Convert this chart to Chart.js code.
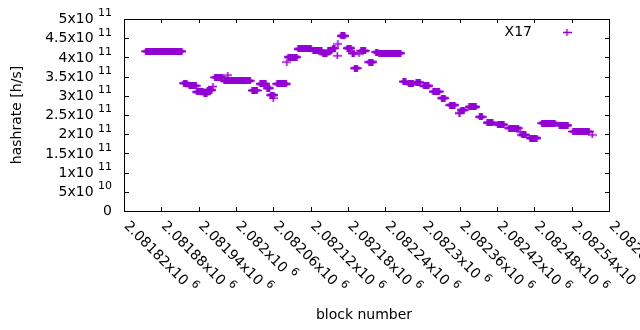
<!DOCTYPE html>
<html>
<head>
<meta charset="utf-8">
<script src="https://cdn.jsdelivr.net/npm/chart.js@4.4.1/dist/chart.umd.min.js"></script>
<style>
  html, body { margin: 0; padding: 0; background: #fff; }
  #wrap { width: 640px; height: 330px; position: relative; }
</style>
</head>
<body>
<div id="wrap"><canvas id="hashChart"></canvas></div>
<script>
// hashrate plateaus: first block, last block, hashrate [h/s]
const runFrom = [2081855, 2081916, 2081925, 2081937, 2081949, 2081954, 2081963, 2081966, 2081981, 2081987,
  2082026, 2082039, 2082050, 2082056, 2082060, 2082066, 2082082, 2082084, 2082100, 2082124,
  2082140, 2082148, 2082156, 2082163, 2082164, 2082169, 2082179, 2082187, 2082191, 2082198,
  2082201, 2082214, 2082225, 2082230, 2082269, 2082278, 2082290, 2082302, 2082317, 2082331,
  2082344, 2082359, 2082362, 2082375, 2082392, 2082404, 2082421, 2082439, 2082457, 2082460,
  2082473, 2082492, 2082520, 2082542, 2082573];
const runTo = [2081913, 2081921, 2081936, 2081947, 2081953, 2081961, 2081963, 2081978, 2082023, 2081987,
  2082034, 2082048, 2082054, 2082061, 2082060, 2082081, 2082082, 2082098, 2082121, 2082138,
  2082146, 2082154, 2082159, 2082163, 2082164, 2082175, 2082185, 2082190, 2082195, 2082198,
  2082208, 2082220, 2082228, 2082265, 2082273, 2082285, 2082296, 2082310, 2082327, 2082336,
  2082352, 2082360, 2082367, 2082386, 2082396, 2082413, 2082431, 2082454, 2082457, 2082466,
  2082484, 2082513, 2082534, 2082568, 2082573];
const runHash = [4.16e11, 3.33e11, 3.26e11, 3.10e11, 3.05e11, 3.15e11, 3.24e11, 3.48e11, 3.39e11, 3.54e11,
  3.14e11, 3.31e11, 3.20e11, 3.02e11, 2.94e11, 3.31e11, 3.88e11, 4.01e11, 4.22e11, 4.18e11,
  4.09e11, 4.17e11, 4.24e11, 4.04e11, 4.35e11, 4.56e11, 4.24e11, 4.11e11, 3.72e11, 4.09e11,
  4.17e11, 3.88e11, 4.14e11, 4.11e11, 3.37e11, 3.31e11, 3.35e11, 3.26e11, 3.11e11, 2.94e11,
  2.76e11, 2.55e11, 2.63e11, 2.71e11, 2.45e11, 2.30e11, 2.25e11, 2.16e11, 2.06e11, 1.98e11,
  1.90e11, 2.29e11, 2.23e11, 2.07e11, 1.98e11];

// tick labels, "^" marks the exponent
const xTickLabels = ['2.08182x10^6', '2.08188x10^6', '2.08194x10^6', '2.082x10^6', '2.08206x10^6',
  '2.08212x10^6', '2.08218x10^6', '2.08224x10^6', '2.0823x10^6', '2.08236x10^6', '2.08242x10^6',
  '2.08248x10^6', '2.08254x10^6', '2.0826x10^6'];
const yTickLabels = ['0', '5x10^10', '1x10^11', '1.5x10^11', '2x10^11', '2.5x10^11', '3x10^11',
  '3.5x10^11', '4x10^11', '4.5x10^11', '5x10^11'];

const seriesName = 'X17';
const purple = '#9400d3';
const FONT = '"DejaVu Sans", sans-serif';

// one point per block
const points = [];
runFrom.forEach(function(b, i) {
  for (let n = b; n <= runTo[i]; n++) points.push({ x: n, y: runHash[i] });
});

// gnuplot style "+" marker
const cross = document.createElement('canvas');
cross.width = 9;
cross.height = 7;
const cc = cross.getContext('2d');
cc.fillStyle = purple;
cc.fillRect(0, 2.75, 9, 1.5);
cc.fillRect(3.75, 0, 1.5, 7);

// draws "5x10 11" with a raised exponent
function drawSci(ctx, label, x, y, align) {
  const parts = label.split('^');
  const base = parts[0] + (parts[1] ? ' ' : '');
  ctx.font = '14px ' + FONT;
  const wb = ctx.measureText(base).width;
  let ws = 0;
  if (parts[1]) {
    ctx.font = '11px ' + FONT;
    ws = ctx.measureText(parts[1]).width;
  }
  const x0 = align === 'right' ? x - wb - ws : x;
  ctx.textAlign = 'left';
  ctx.textBaseline = 'middle';
  ctx.font = '14px ' + FONT;
  ctx.fillText(base, x0, y);
  if (parts[1]) {
    ctx.font = '11px ' + FONT;
    ctx.fillText(parts[1], x0 + wb, y - 6);
  }
}

const gnuplotFrame = {
  id: 'gnuplotFrame',
  afterDraw(chart) {
    const ctx = chart.ctx;
    const a = chart.chartArea;
    const xs = chart.scales.x;
    const ys = chart.scales.y;
    ctx.save();
    ctx.strokeStyle = '#000';
    ctx.fillStyle = '#000';
    ctx.lineWidth = 1;

    // border
    ctx.strokeRect(a.left + 0.5, a.top + 0.5, a.right - a.left, a.bottom - a.top);

    // inward ticks on all four sides
    ctx.beginPath();
    ys.ticks.forEach(function(t) {
      const py = Math.round(ys.getPixelForValue(t.value)) + 0.5;
      ctx.moveTo(a.left, py); ctx.lineTo(a.left + 5, py);
      ctx.moveTo(a.right + 1, py); ctx.lineTo(a.right - 4, py);
    });
    xs.ticks.forEach(function(t) {
      const px = Math.round(xs.getPixelForValue(t.value)) + 0.5;
      ctx.moveTo(px, a.bottom); ctx.lineTo(px, a.bottom - 4);
      ctx.moveTo(px, a.top); ctx.lineTo(px, a.top + 4);
    });
    ctx.stroke();

    // y tick labels
    ys.ticks.forEach(function(t, i) {
      drawSci(ctx, yTickLabels[i], 112, ys.getPixelForValue(t.value) + 0.5, 'right');
    });

    // x tick labels, rotated
    xs.ticks.forEach(function(t, i) {
      ctx.save();
      ctx.translate(xs.getPixelForValue(t.value) + 2, a.bottom + 13);
      ctx.rotate(Math.PI / 4);
      drawSci(ctx, xTickLabels[i], 0, 0, 'left');
      ctx.restore();
    });

    // axis titles
    ctx.font = '14px ' + FONT;
    ctx.textAlign = 'center';
    ctx.textBaseline = 'middle';
    ctx.fillText('block number', 364, 315);
    ctx.save();
    ctx.translate(17, 115);
    ctx.rotate(-Math.PI / 2);
    ctx.fillText('hashrate [h/s]', 0, 0);
    ctx.restore();

    // key
    ctx.textAlign = 'right';
    ctx.fillText(seriesName, 532, 32);
    ctx.drawImage(cross, 567 - 4.5, 32.5 - 3.5);
    ctx.restore();
  }
};

const chart = new Chart(document.getElementById('hashChart'), {
  type: 'scatter',
  data: {
    datasets: [{
      label: seriesName,
      data: points,
      pointStyle: cross,
      pointRadius: 4,
      borderColor: purple,
      backgroundColor: purple
    }]
  },
  options: {
    responsive: true,
    maintainAspectRatio: false,
    animation: false,
    layout: { padding: { left: 124, right: 31, top: 19, bottom: 119 } },
    plugins: { legend: { display: false }, tooltip: { enabled: false } },
    scales: {
      x: {
        type: 'linear',
        display: false,
        min: 2081820,
        max: 2082600,
        ticks: { stepSize: 60, autoSkip: false }
      },
      y: {
        display: false,
        min: 0,
        max: 5e11,
        ticks: { stepSize: 5e10, autoSkip: false }
      }
    }
  },
  plugins: [gnuplotFrame]
});
</script>
</body>
</html>
